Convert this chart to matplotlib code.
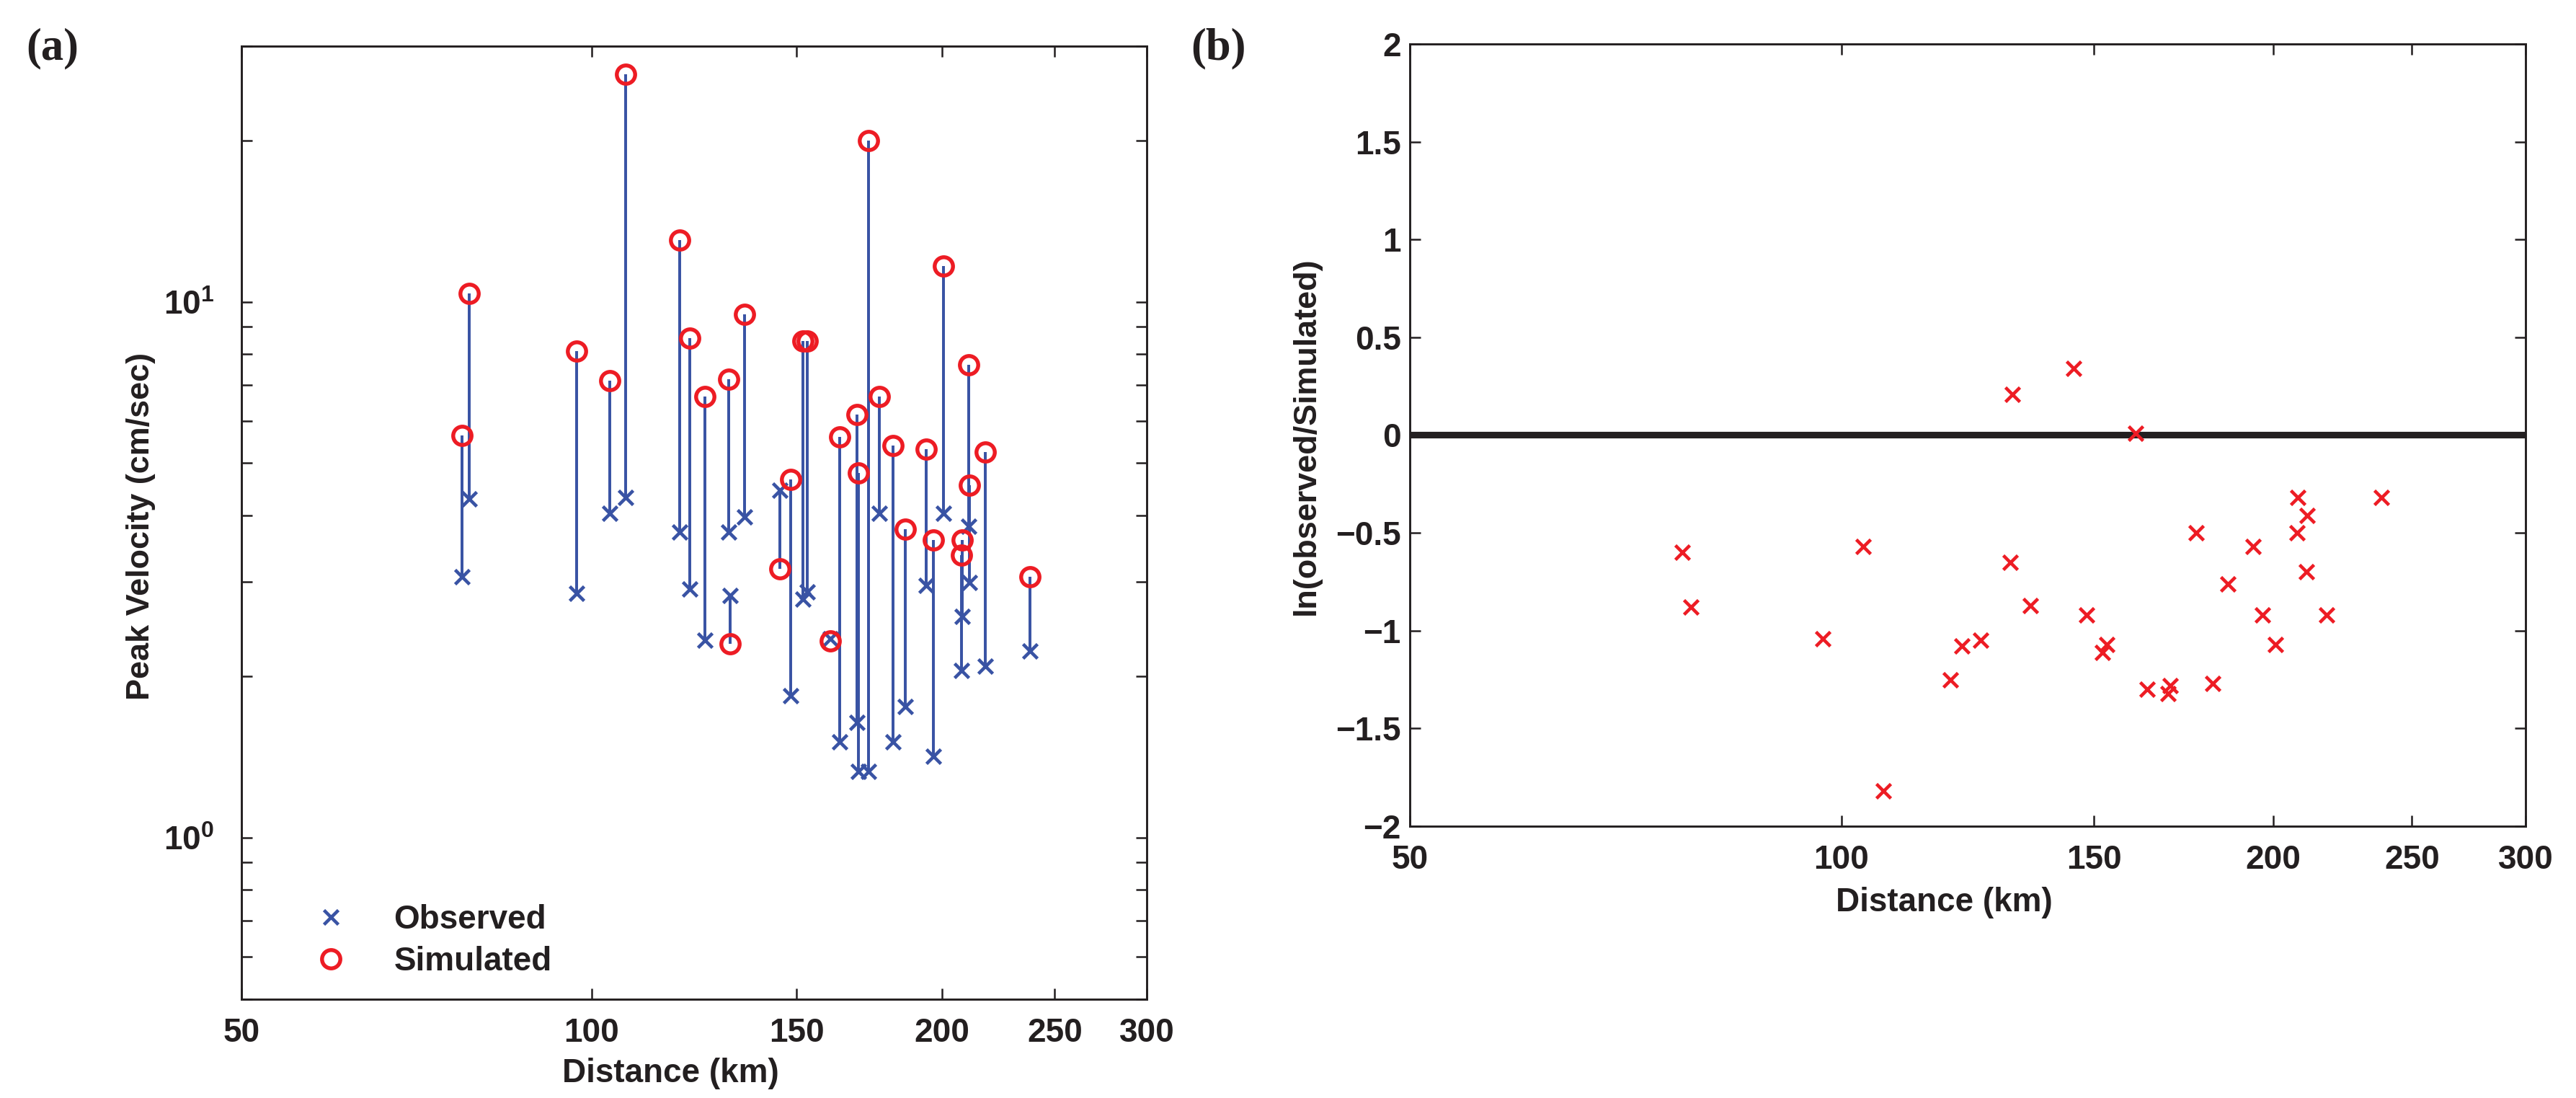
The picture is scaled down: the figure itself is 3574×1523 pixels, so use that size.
import numpy as np
import matplotlib
matplotlib.use("Agg")
import matplotlib.pyplot as plt
from matplotlib.lines import Line2D
from matplotlib.ticker import FixedLocator, FuncFormatter, NullFormatter, NullLocator, LogLocator

# ---------------- data ----------------
distance = [77.4, 78.5, 97.1, 103.6, 107.0, 119.1, 121.4, 125.1, 131.1, 131.6,
            135.4, 145.2, 148.3, 152.0, 153.2, 160.4, 163.4, 169.0, 169.6, 173.0,
            176.8, 181.5, 186.0, 193.8, 196.6, 200.7, 207.8, 208.2, 211.0, 211.2,
            217.9, 238.0]
observed = [3.07, 4.29, 2.86, 4.03, 4.32, 3.72, 2.91, 2.34, 3.72, 2.83,
            3.97, 4.45, 1.84, 2.79, 2.88, 2.35, 1.51, 1.64, 1.33, 1.33,
            4.03, 1.51, 1.76, 2.96, 1.42, 4.03, 2.05, 2.59, 3.81, 2.99,
            2.09, 2.23]
simulated = [5.64, 10.36, 8.09, 7.13, 26.6, 13.03, 8.56, 6.66, 7.17, 2.30,
             9.47, 3.18, 4.66, 8.46, 8.46, 2.33, 5.60, 6.17, 4.79, 20.0,
             6.66, 5.40, 3.77, 5.31, 3.59, 11.68, 3.37, 3.59, 7.62, 4.55,
             5.24, 3.07]
# panel (b): ln(observed/simulated) (173 km point lies below -2)
ln_ratio = [-0.60, -0.88, -1.04, -0.57, -1.82, -1.25, -1.08, -1.05, -0.65, 0.21,
            -0.87, 0.34, -0.92, -1.11, -1.07, 0.01, -1.30, -1.32, -1.28, -2.71,
            -0.50, -1.27, -0.76, -0.57, -0.92, -1.07, -0.50, -0.32, -0.70, -0.41,
            -0.92, -0.32]

x_ticks = [50, 100, 150, 200, 250, 300]
y_ticks_b = [-2, -1.5, -1, -0.5, 0, 0.5, 1, 1.5, 2]
legend_labels = ["Observed", "Simulated"]

# ---------------- style ----------------
BLUE = "#3953A4"
RED = "#ED1C24"
INK = "#231F20"

plt.rcParams["font.family"] = ["Liberation Sans", "DejaVu Sans"]
plt.rcParams["font.weight"] = "bold"
plt.rcParams["axes.labelweight"] = "bold"
plt.rcParams["mathtext.fontset"] = "custom"
plt.rcParams["mathtext.rm"] = "Liberation Sans:bold"
plt.rcParams["mathtext.bf"] = "Liberation Sans:bold"
plt.rcParams["mathtext.it"] = "Liberation Sans:bold"
plt.rcParams["mathtext.default"] = "bf"
plt.rcParams["text.color"] = INK
plt.rcParams["axes.labelcolor"] = INK
plt.rcParams["xtick.color"] = INK
plt.rcParams["ytick.color"] = INK
plt.rcParams["axes.edgecolor"] = INK

FS = 11
LFS = 10.8

fig = plt.figure(figsize=(3574 / 300, 1523 / 300), dpi=300)
ax1 = fig.add_axes([0.0937, 0.0900, 0.3515, 0.868])
ax2 = fig.add_axes([0.5473, 0.2475, 0.4331, 0.7125])

for ax in (ax1, ax2):
    for sp in ax.spines.values():
        sp.set_linewidth(0.7)
    ax.tick_params(which="both", direction="in", top=True, right=True,
                   length=3.6, width=0.6, labelsize=FS)

# ---------------- panel (a) ----------------
ax1.set_xscale("log")
ax1.set_yscale("log")
ax1.vlines(distance, observed, simulated, colors=BLUE, lw=0.95, zorder=2)
ax1.plot(distance, observed, ls="none", marker="x", color=BLUE, ms=5.0, mew=1.1, zorder=3)
ax1.plot(distance, simulated, ls="none", marker="o", mfc="none", mec=RED, ms=6.1, mew=1.3, zorder=4)
ax1.set_xlim(50, 300)
ax1.set_ylim(0.5, 30)
ax1.xaxis.set_major_locator(FixedLocator(x_ticks))
ax1.xaxis.set_major_formatter(FuncFormatter(lambda v, p: "%d" % round(v)))
ax1.xaxis.set_minor_locator(NullLocator())
ax1.yaxis.set_major_locator(LogLocator(base=10))
ax1.yaxis.set_minor_locator(LogLocator(base=10, subs=np.arange(2, 10)))
ax1.yaxis.set_minor_formatter(NullFormatter())
ax1.tick_params(axis="x", pad=6)
ax1.tick_params(axis="y", pad=9)
ax1.set_xlabel("Distance (km)", fontsize=FS)
ax1.set_ylabel("Peak Velocity (cm/sec)", fontsize=LFS)
ax1.xaxis.set_label_coords(0.474, -0.061)
ax1.yaxis.set_label_coords(-0.0947, 0.496)

handles = [Line2D([], [], ls="none", marker="x", color=BLUE, ms=5.0, mew=1.1),
           Line2D([], [], ls="none", marker="o", mfc="none", mec=RED, ms=6.1, mew=1.3)]
ax1.legend(handles, legend_labels, loc="lower left", bbox_to_anchor=(0.048, 0.009),
           frameon=False, fontsize=FS, handlelength=2.0, handletextpad=0.9,
           labelspacing=0.3, borderaxespad=0.0)

# ---------------- panel (b) ----------------
ax2.set_xscale("log")
ax2.axhline(0, color=INK, lw=2.2, zorder=2)
ax2.plot(distance, ln_ratio, ls="none", marker="x", color=RED, ms=5.0, mew=1.1, zorder=3)
ax2.set_xlim(50, 300)
ax2.set_ylim(-2, 2)
ax2.xaxis.set_major_locator(FixedLocator(x_ticks))
ax2.xaxis.set_major_formatter(FuncFormatter(lambda v, p: "%d" % round(v)))
ax2.xaxis.set_minor_locator(NullLocator())
ax2.yaxis.set_major_locator(FixedLocator(y_ticks_b))
ax2.yaxis.set_major_formatter(FuncFormatter(lambda v, p: ("%g" % v).replace("-", "\u2212")))
ax2.tick_params(axis="x", pad=6)
ax2.tick_params(axis="y", pad=3)
ax2.set_xlabel("Distance (km)", fontsize=FS)
ax2.set_ylabel("ln(observed/Simulated)", fontsize=LFS)
ax2.xaxis.set_label_coords(0.479, -0.077)
ax2.yaxis.set_label_coords(-0.0795, 0.499)

# ---------------- panel letters ----------------
fig.text(0.0101, 0.975, "(a)", family=["Liberation Serif"], weight="bold", fontsize=15, va="top", ha="left")
fig.text(0.4622, 0.975, "(b)", family=["Liberation Serif"], weight="bold", fontsize=15, va="top", ha="left")

fig.savefig("out.png", dpi=300)
